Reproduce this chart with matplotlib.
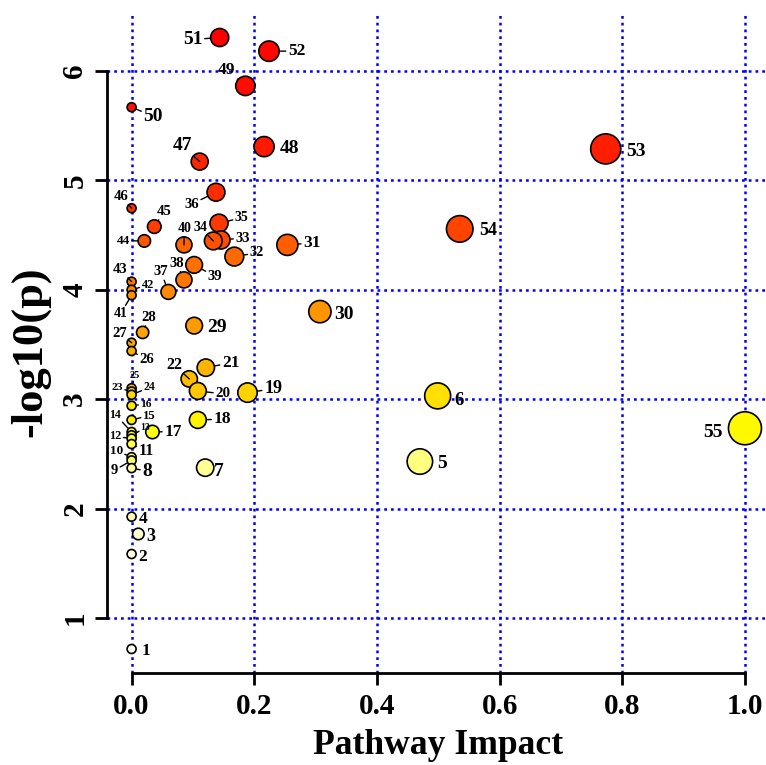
import colorsys
import numpy as np
import matplotlib
matplotlib.use("Agg")
import matplotlib.pyplot as plt

plt.rcParams['font.family'] = ['Liberation Serif', 'DejaVu Serif']
plt.rcParams['font.weight'] = 'bold'

# pathway number, impact (x) and -log10(p) (y)
ids = list(range(1, 56))
impact = [0, 0, 0.011, 0, 0.470, 0.499, 0.120, 0, 0, 0,
          0, 0, 0, 0, 0, 0, 0.034, 0.108, 0.189, 0.108,
          0.121, 0.094, 0, 0, 0, 0, 0, 0.018, 0.102, 0.307,
          0.254, 0.1675, 0.1457, 0.1332, 0.1425, 0.1376, 0.060, 0.0854, 0.102, 0.0854,
          0, 0, 0, 0.0207, 0.037, 0, 0.111, 0.216, 0.1855, 0,
          0.1436, 0.224, 0.773, 0.535, 1.0]
logp = [0.717, 1.585, 1.768, 1.926, 2.43, 3.03, 2.374, 2.37, 2.44, 2.47,
        2.59, 2.64, 2.67, 2.70, 2.81, 2.94, 2.70, 2.81, 3.06, 3.075,
        3.288, 3.185, 3.07, 3.04, 3.10, 3.44, 3.516, 3.61, 3.672, 3.80,
        4.41, 4.303, 4.455, 4.446, 4.608, 4.891, 3.98, 4.09, 4.227, 4.41,
        3.95, 4.00, 4.074, 4.446, 4.577, 4.745, 5.171, 5.308, 5.863, 5.668,
        6.305, 6.18, 5.287, 4.556, 2.734]

# label placement: offset of label centre from the point, in pixels (right, down)
label_off = {
    1: (14, 0), 2: (11.3, 1), 3: (12.4, 1), 4: (11.7, 0.6), 5: (22, 0),
    6: (21.7, 3), 7: (14, 1.3), 8: (15.7, 1), 9: (-17, 8.3), 10: (-15.3, -8),
    11: (14.7, 6), 12: (-16.3, -3.3), 13: (14, -8.3), 14: (-16.3, -18.4), 15: (17.6, -5.7),
    16: (14.4, -3), 17: (20.6, -2.3), 18: (24.6, -2.7), 19: (25.6, -5.4), 20: (25, 1.3),
    21: (25, -6.7), 22: (-15.3, -15.7), 23: (-14.4, -5), 24: (17.7, -8.3), 25: (3.4, -14),
    26: (15, 7.3), 27: (-12, -10.4), 28: (6.6, -16.6), 29: (22.4, 0), 30: (24.3, 0.6),
    31: (24.6, -3.7), 32: (22.4, -5), 33: (21.7, -3.3), 34: (-13.3, -15), 35: (22.7, -6.6),
    36: (-24.3, 10.4), 37: (-7.3, -21.7), 38: (-7.3, -18.3), 39: (20.7, 10), 40: (0.3, -17.4),
    41: (-11, 17.3), 42: (16, -5.7), 43: (-11.7, -13.4), 44: (-21, -1.7), 45: (10, -16.7),
    46: (-10.7, -13.3), 47: (-17, -17.7), 48: (25.3, 0), 49: (-18.7, -17.7), 50: (21.7, 7),
    51: (-27, 0), 52: (27.7, -2), 53: (30, 1), 54: (28, 0), 55: (-31.7, 2),
}
label_size = {
    1: 12.5, 2: 12.5, 3: 13, 4: 12.5, 5: 14, 6: 13.5, 7: 14, 8: 14, 9: 10.5, 10: 9.5,
    11: 11.5, 12: 8.8, 13: 7, 14: 8.5, 15: 9.2, 16: 8.2, 17: 12.5, 18: 12.5, 19: 13, 20: 10.8,
    21: 12.5, 22: 11.5, 23: 8.2, 24: 8.5, 25: 7.5, 26: 10.6, 27: 10.6, 28: 10.6, 29: 14, 30: 14,
    31: 12.5, 32: 10.3, 33: 10.6, 34: 10, 35: 10, 36: 10.6, 37: 10.6, 38: 10.6, 39: 10.6, 40: 10,
    41: 10, 42: 8.8, 43: 10.6, 44: 9.6, 45: 10.6, 46: 10.6, 47: 14, 48: 14, 49: 12.5, 50: 14,
    51: 14, 52: 12.5, 53: 14, 54: 13, 55: 14,
}
no_leader = {1, 2, 3, 4, 5, 6, 7, 29, 30, 48, 53, 54, 55}


def heat_colors(n):
    # same ramp as R's heat.colors()
    j = n // 4
    i = n - j
    cols = [colorsys.hsv_to_rgb(h, 1, 1) for h in np.linspace(0, 1 / 6, i)]
    cols += [colorsys.hsv_to_rgb(1 / 6, s, 1) for s in np.linspace(1 - 1 / (2 * j), 1 / (2 * j), j)]
    return cols


x = np.array(impact)
y = np.array(logp)
order = np.argsort(-y, kind='stable')
ramp = heat_colors(len(y))
colors = [None] * len(y)
for k, idx in enumerate(order):
    colors[idx] = ramp[k]

# circle radius in pixels grows with sqrt(impact)
radius_px = 4.5 + 12.0 * np.sqrt(x)
sizes = (2 * radius_px * 0.72) ** 2

fig = plt.figure(figsize=(7.66, 7.65), dpi=100)
ax = fig.add_axes([107 / 766, 92 / 765, 659 / 766, 660 / 765])
ax.set_xlim(-0.0401, 1.0343)
ax.set_ylim(0.4976, 6.529)

ax.set_xticks([0, 0.2, 0.4, 0.6, 0.8, 1.0])
ax.set_xticklabels(['0.0', '0.2', '0.4', '0.6', '0.8', '1.0'])
ax.set_yticks([1, 2, 3, 4, 5, 6])
ax.grid(True, color='blue', linestyle=(0, (1.1, 1.6)), linewidth=1.8)
ax.set_axisbelow(True)

for s in ['top', 'right']:
    ax.spines[s].set_visible(False)
ax.spines['left'].set_bounds(1, 6)
ax.spines['bottom'].set_bounds(0, 1)
ax.spines['left'].set_linewidth(2)
ax.spines['bottom'].set_linewidth(2)
ax.tick_params(direction='out', length=8.5, width=2, labelsize=21)
ax.tick_params(axis='x', pad=6)
ax.tick_params(axis='y', pad=5)
for lab in ax.get_yticklabels():
    lab.set_rotation(90)
    lab.set_va('center')

ax.scatter(x[order], y[order], s=sizes[order], c=[colors[i] for i in order],
           edgecolors='black', linewidths=1.2, zorder=3, clip_on=False)

for i, pid in enumerate(ids):
    dx, dy = label_off[pid]
    fs = label_size[pid]
    # shift so the digits (not the line box) are centred on the offset
    oy = -dy - 0.338 * fs / 0.72
    kw = {}
    if pid not in no_leader:
        kw['arrowprops'] = dict(arrowstyle='-', color='black', lw=1.0,
                                shrinkA=1, shrinkB=radius_px[i] * 0.72 + 0.5)
    ax.annotate(str(pid), xy=(x[i], y[i]), xytext=(dx, oy), textcoords='offset pixels',
                ha='center', va='baseline', fontsize=fs, fontweight='bold',
                bbox=dict(boxstyle='square,pad=0.05', fc='none', ec='none'),
                zorder=4, annotation_clip=False, **kw)

fig.text(438 / 766, 1 - 745 / 765, 'Pathway Impact', ha='center', va='center',
         fontsize=25.6, fontweight='bold')
fig.text(30 / 766, 1 - 352 / 765, '-log10(p)', ha='center', va='center',
         rotation=90, fontsize=32, fontweight='bold')

fig.savefig('out.png', dpi=100)
